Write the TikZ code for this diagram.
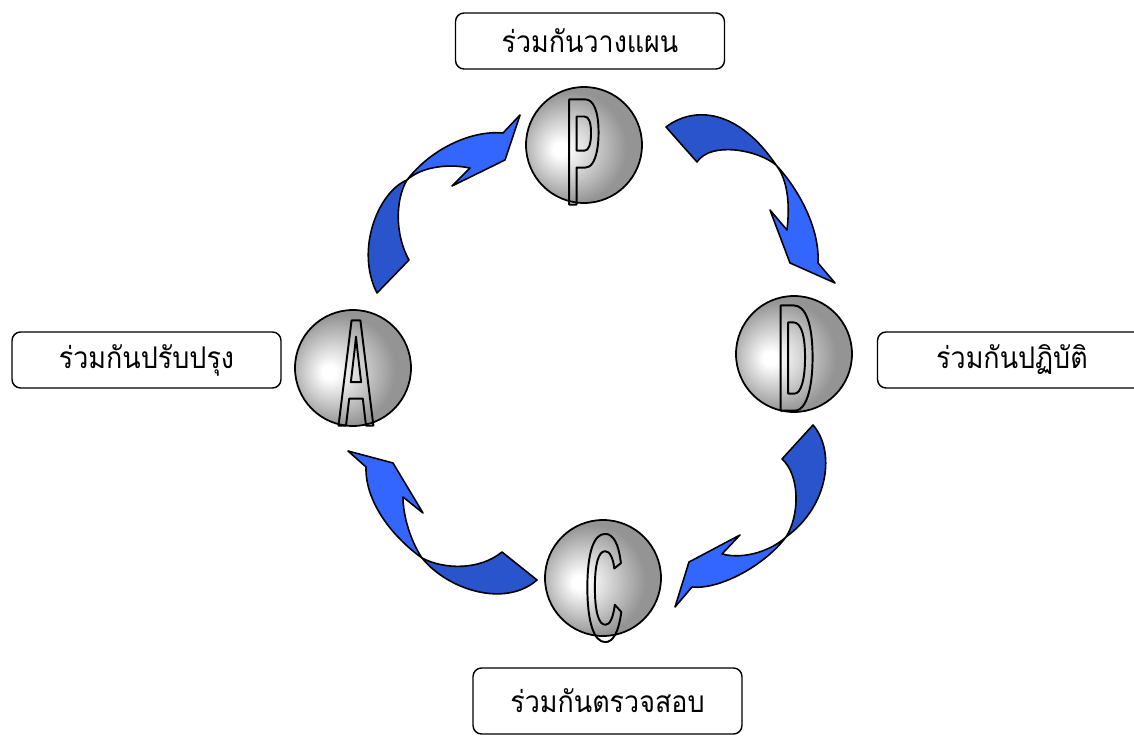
\documentclass[tikz,border=0pt]{standalone}
\usepackage{fontspec}
\setmainfont{Liberation Sans}
\newfontfamily\thaifont[Script=Thai,FakeStretch=0.9]{Loma}
\newfontfamily\letterfont[FakeStretch=0.34]{Liberation Sans}
\usetikzlibrary{positioning}
\definecolor{arrdark}{RGB}{42,84,204}
\definecolor{arrlight}{RGB}{51,102,255}
\pgfdeclareradialshading{glassball}{\pgfpoint{-11bp}{-2bp}}{color(0bp)=(white); color(3bp)=(white); color(24bp)=(black!42); color(50bp)=(black!42)}
\newcommand{\bigletter}[1]{{\letterfont\bfseries\fontsize{87}{87}\selectfont\special{pdf:literal direct 1 Tr 1.1 w}#1\special{pdf:literal direct 0 Tr}}}

\begin{document}
\begin{tikzpicture}[x=0.02cm,y=-0.02cm,line join=round,
  stagebox/.style={draw,line width=0.8pt,rounded corners=0.17cm,minimum width=5.38cm,minimum height=1.12cm,inner sep=0pt,font=\thaifont\fontsize{17}{20}\selectfont},
  ball/.style={circle,draw,line width=1pt,minimum size=2.32cm,inner sep=0pt,shade,shading=glassball},
  arrback/.style={fill=arrdark,draw=black,line width=0.9pt},
  arrfront/.style={fill=arrlight,draw=black,line width=0.9pt}]
\useasboundingbox (0,0) rectangle (1134,736);

% the four stages
\node[stagebox] (plan) at (590,41) {ร่วมกันวางแผน};
\node[stagebox] (act) at (146.5,360) {ร่วมกันปรับปรุง};
\node[stagebox] (do) at (1012,360) {ร่วมกันปฏิบัติ};
\node[stagebox,minimum height=1.32cm] (check) at (607.5,701) {ร่วมกันตรวจสอบ};

\node[ball] (p) at (584,145) {};
\node[ball] (d) at (794,354) {};
\node[ball] (c) at (603,578) {};
\node[ball] (a) at (353,368) {};
\node (pl) at (583,152) {\bigletter{P}};
\node (dl) at (796,358) {\bigletter{D}};
\node (cl) at (604,588) {\bigletter{C}};
\node (al) at (356,373) {\bigletter{A}};

% P -> D
\filldraw[arrback] (666,127) .. controls (695,105) and (739,110) .. (776,165)
  .. controls (758,150) and (711,141) .. (697,162) -- cycle;
\filldraw[arrfront] (776,165) .. controls (795,185) and (820,225) .. (818,263)
  -- (835,283) -- (790,263) -- (770,210) -- (787,230)
  .. controls (790,205) and (788,180) .. (776,165) -- cycle;
% D -> C
\filldraw[arrback] (813,425) .. controls (835,450) and (830,505) .. (786,537)
  .. controls (800,515) and (800,475) .. (782,459) -- cycle;
\filldraw[arrfront] (786,537) .. controls (765,565) and (720,590) .. (692,587)
  -- (675,607) -- (689,562) -- (740,535) -- (722,554)
  .. controls (745,560) and (772,550) .. (786,537) -- cycle;
% C -> A
\filldraw[arrback] (502,552) .. controls (480,570) and (445,570) .. (422,558)
  .. controls (448,590) and (505,608) .. (537,580) -- cycle;
\filldraw[arrfront] (422,558) .. controls (390,535) and (365,500) .. (366,467)
  -- (348,451) -- (393,463) -- (423,513) -- (403,497)
  .. controls (403,515) and (410,540) .. (422,558) -- cycle;
% A -> P
\filldraw[arrback] (409,260) .. controls (395,235) and (395,200) .. (407,180)
  .. controls (378,192) and (355,250) .. (377,293) -- cycle;
\filldraw[arrfront] (407,180) .. controls (430,150) and (470,130) .. (503,133)
  -- (520,115) -- (505,160) -- (452,186) -- (470,168)
  .. controls (445,163) and (420,168) .. (407,180) -- cycle;
\end{tikzpicture}
\end{document}
